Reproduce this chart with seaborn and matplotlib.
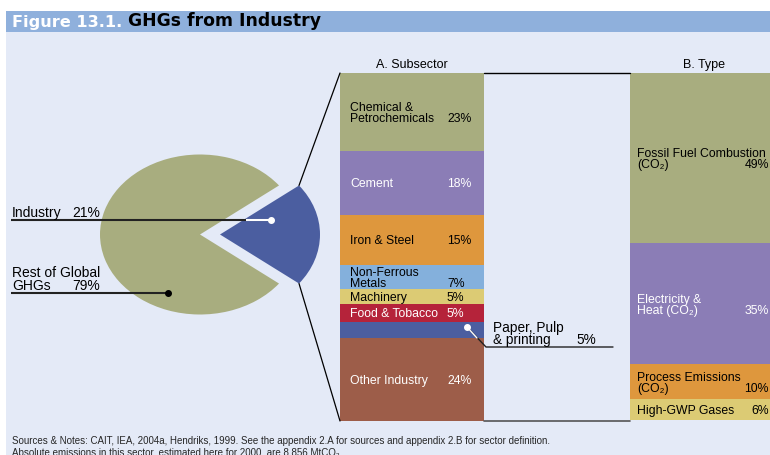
import numpy as np
import matplotlib
matplotlib.use("Agg")
import matplotlib.pyplot as plt
import seaborn as sns
from matplotlib.patches import Rectangle

# ---------------- data ----------------
pie_labels = ["Industry", "Rest of Global\nGHGs"]
pie_shares = [21, 79]
pie_pct = ["21%", "79%"]

subsectors = ["Chemical &\nPetrochemicals", "Cement", "Iron & Steel",
              "Non-Ferrous\nMetals", "Machinery", "Food & Tobacco",
              "Paper, Pulp\n& printing", "Other Industry"]
subsector_pct = ["23%", "18%", "15%", "7%", "5%", "5%", "5%", "24%"]
subsector_heights = [22.4, 18.4, 14.4, 6.9, 4.3, 5.2, 4.6, 23.9]

types = ["Fossil Fuel Combustion\n(CO₂)", "Electricity &\nHeat (CO₂)",
         "Process Emissions\n(CO₂)", "High-GWP Gases"]
type_pct = ["49%", "35%", "10%", "6%"]
type_shares = [49, 35, 10, 6]

# ---------------- style ----------------
OLIVE = "#a8ad7f"
BLUE = "#4b5ea0"
PURPLE = "#8b7db6"
ORANGE = "#de973d"
LIGHTBLUE = "#84b0dc"
YELLOW = "#dccb74"
RED = "#b5233a"
BROWN = "#9d5d49"
PANEL = "#e4eaf7"
TITLEBAR = "#8fb0dc"

sub_colors = [OLIVE, PURPLE, ORANGE, LIGHTBLUE, YELLOW, RED, BLUE, BROWN]
sub_text = ["black", "white", "black", "black", "black", "white", None, "white"]
type_colors = [OLIVE, PURPLE, ORANGE, YELLOW]
type_text = ["black", "white", "black", "black"]

sns.set_theme(style="white")
plt.rcParams["font.family"] = ["Liberation Sans", "DejaVu Sans"]
plt.rcParams["mathtext.fontset"] = "custom"
plt.rcParams["mathtext.rm"] = "Liberation Sans"
plt.rcParams["mathtext.it"] = "Liberation Sans:italic"
plt.rcParams["mathtext.bf"] = "Liberation Sans:bold"

W, H = 770, 455
PX = 72 / 100  # points per pixel at dpi 100
fig = plt.figure(figsize=(W / 100, H / 100), dpi=100)
fig.patch.set_facecolor("white")


def px_axes(x0, y0, x1, y1, z=1):
    ax = fig.add_axes([x0 / W, 1 - y1 / H, (x1 - x0) / W, (y1 - y0) / H])
    ax.set_zorder(z)
    return ax


# background
bg = fig.add_axes([0, 0, 1, 1])
bg.set_zorder(0)
bg.set_xlim(0, W)
bg.set_ylim(H, 0)
bg.axis("off")
bg.add_patch(Rectangle((6, 32), W, H, color=PANEL, lw=0))
bg.add_patch(Rectangle((6, 11), W, 21, color=TITLEBAR, lw=0))
t1 = bg.text(12, 22, "Figure 13.1.", color="white", fontsize=11.6,
             fontweight="bold", family="DejaVu Sans", va="center", ha="left")
bg.annotate("GHGs from Industry", xy=(1, 0), xycoords=t1, xytext=(4, 0),
            textcoords="offset points", va="bottom", ha="left", color="black",
            fontsize=12.4, fontweight="bold", family="DejaVu Sans")

# ---------------- pie ----------------
pax = px_axes(90, 150, 330, 320)
wedges, _ = pax.pie(pie_shares, colors=[BLUE, OLIVE],
                    startangle=-pie_shares[0] * 3.6 / 2, explode=[0.2, 0],
                    counterclock=True, wedgeprops=dict(linewidth=0))
pax.set_aspect("auto")
pax.set_xlim(-1.1, 1.3)
pax.set_ylim((234.5 - 320) / 80, (234.5 - 150) / 80)
pax.axis("off")


# ---------------- stacked bars (seaborn) ----------------
def stacked(ax, heights, colors):
    cum = np.cumsum(heights)
    for c, col in reversed(list(zip(cum, colors))):
        sns.barplot(x=["s"], y=[c], color=col, width=1, saturation=1,
                    linewidth=0, errorbar=None, ax=ax)
    ax.set_xlim(-0.5, 0.5)
    ax.set_ylim(cum[-1], 0)
    ax.axis("off")
    return cum - np.asarray(heights) / 2


def label_block(ax, tr, x_lab, x_val, y, lab, val, color, fs, step_px,
                ha_val="left"):
    """Multi-line label centred at y (one text per line, baseline aligned);
    value placed on the baseline of the last line."""
    lines = lab.split("\n")
    n = len(lines)
    cap = 0.36 * fs  # half cap height, points
    for i, line in enumerate(lines):
        off = ((n - 1) / 2 - i) * step_px * PX - cap
        ax.annotate(line, xy=(x_lab, y), xycoords=tr, xytext=(0, off),
                    textcoords="offset points", va="baseline", ha="left",
                    color=color, fontsize=fs)
        if i == n - 1:
            ax.annotate(val, xy=(x_val, y), xycoords=tr, xytext=(0, off),
                        textcoords="offset points", va="baseline",
                        ha=ha_val, color=color, fontsize=fs)


FS_BAR = 8.8

axA = px_axes(340, 73, 484, 421)
midsA = stacked(axA, subsector_heights, sub_colors)
trA = axA.get_yaxis_transform()
for lab, pct, m, tc in zip(subsectors, subsector_pct, midsA, sub_text):
    if tc is None:
        continue
    label_block(axA, trA, 0.069, 0.743, m, lab, pct, tc, FS_BAR, 11.5)
axA.text(0.5, 1 + 8 / 348, "A. Subsector", transform=axA.transAxes,
         fontsize=9, ha="center", va="center", color="black")

axB = px_axes(630, 73, 778, 420)
midsB = stacked(axB, type_shares, type_colors)
trB = axB.get_yaxis_transform()
for lab, pct, m, tc in zip(types, type_pct, midsB, type_text):
    label_block(axB, trB, 0.047, 0.939, m, lab, pct, tc, FS_BAR, 11.2,
                ha_val="right")
axB.text(0.5, 1 + 8 / 347, "B. Type", transform=axB.transAxes, fontsize=9,
         ha="center", va="center", color="black")

# ---------------- overlay lines & labels ----------------
ov = fig.add_axes([0, 0, 1, 1])
ov.set_zorder(5)
ov.patch.set_alpha(0)
ov.set_xlim(0, W)
ov.set_ylim(H, 0)
ov.axis("off")
inv = ov.transData.inverted()


def to_px(ax, pt, axes_coords=False):
    tr = ax.transAxes if axes_coords else ax.transData
    return inv.transform(tr.transform(pt))


w = wedges[0]
cx, cy = w.center
up = to_px(pax, (cx + w.r * np.cos(np.radians(w.theta2)),
                 cy + w.r * np.sin(np.radians(w.theta2))))
lo = to_px(pax, (cx + w.r * np.cos(np.radians(w.theta1)),
                 cy + w.r * np.sin(np.radians(w.theta1))))
a_tl = to_px(axA, (0, 1), True)
a_bl = to_px(axA, (0, 0), True)
a_tr = to_px(axA, (1, 1), True)
a_br = to_px(axA, (1, 0), True)
b_tl = to_px(axB, (0, 1), True)
b_bl = to_px(axB, (0, 0), True)

ov.plot([up[0], a_tl[0]], [up[1], a_tl[1]], color="black", lw=0.9)
ov.plot([lo[0], a_bl[0]], [lo[1], a_bl[1]], color="black", lw=0.9)
ov.plot([a_tr[0], b_tl[0]], [a_tr[1], a_tr[1]], color="black", lw=1.0)
ov.plot([a_br[0], b_bl[0]], [a_br[1], a_br[1]], color="#555555", lw=1.2)

# pie labels
ov.plot([11, 271], [220, 220], color="#222222", lw=1.5, solid_capstyle="butt")
ov.plot([246, 271], [220, 220], color="white", lw=1.5, solid_capstyle="butt")
ov.plot([271], [220], "o", color="white", ms=4)
ov.plot([11, 168], [293, 293], color="#222222", lw=1.5, solid_capstyle="butt")
ov.plot([168], [293], "o", color="black", ms=4)
label_block(ov, ov.transData, 12, 72, 212, pie_labels[0], pie_pct[0],
            "black", 10, 13)
label_block(ov, ov.transData, 12, 72, 278.5, pie_labels[1], pie_pct[1],
            "black", 10, 13)

# paper, pulp callout
ov.plot([467, 486, 613], [327, 347, 347], color="#222222", lw=1.0)
ov.plot([467, 477], [327, 338], color="white", lw=1.0)
ov.plot([467], [327], "o", color="white", ms=4)
label_block(ov, ov.transData, 493, 576, 333, subsectors[6], subsector_pct[6],
            "black", 9.8, 12.6)

# footnote
ov.text(12, 441, "Sources & Notes: CAIT, IEA, 2004a, Hendriks, 1999. See the "
        "appendix 2.A for sources and appendix 2.B for sector definition.",
        fontsize=7, va="center", ha="left")
ov.text(12, 452.5, "Absolute emissions in this sector, estimated here for "
        "2000, are 8,856 MtCO₂.", fontsize=7, va="center", ha="left")

fig.savefig("out.png", dpi=100)
